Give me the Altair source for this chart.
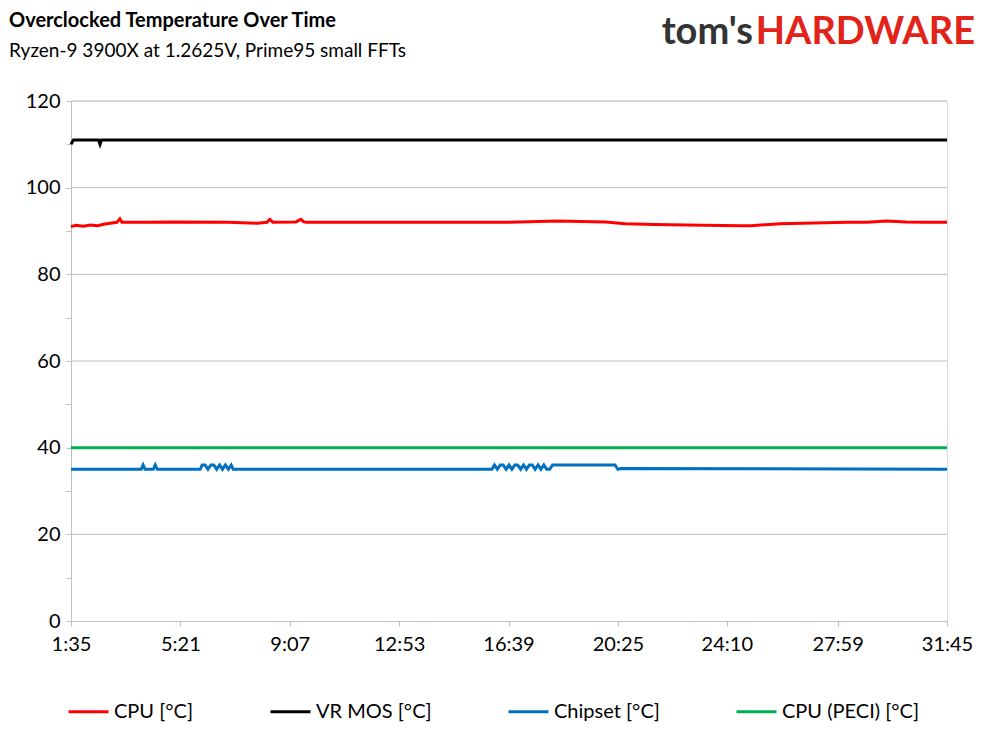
"""Overclocked temperature over time (Ryzen-9 3900X, Prime95 small FFTs)."""

import altair as alt
import pandas as pd

FONT = "Lato"

# breakpoints: time in seconds, temperature in °C
cpu_t = [95, 105, 120, 135, 150, 165, 190, 196, 200, 260, 300, 420, 480, 500, 506, 512, 560, 570,
         576, 582, 650, 780, 900, 1000, 1100, 1200, 1240, 1300, 1400, 1480, 1500, 1560, 1700, 1740,
         1780, 1820, 1860, 1905]
cpu_v = [91.0, 91.3, 91.1, 91.4, 91.2, 91.6, 92.0, 92.8, 92.0, 92.0, 92.1, 92.0, 91.8, 92.0, 92.7,
         92.0, 92.1, 92.7, 92.1, 92.0, 92.0, 92.0, 92.0, 92.0, 92.3, 92.1, 91.7, 91.5, 91.3, 91.2, 91.2,
         91.7, 92.0, 92.0, 92.3, 92.1, 92.0, 92.0]

vr_t = [95, 100, 103, 152, 155, 158, 1905]
vr_v = [110, 111, 111, 111, 110, 111, 111]

chip_t = [95, 240, 244, 248, 265, 269, 273, 362, 366, 372, 378, 384, 390, 396, 402, 408, 414, 420,
          426, 430, 965, 970, 976, 982, 988, 994, 1000, 1006, 1012, 1018, 1024, 1030, 1036, 1042,
          1048, 1054, 1060, 1066, 1072, 1078, 1084, 1090, 1095, 1219, 1225, 1231, 1905]
chip_v = [35, 35, 36, 35, 35, 36, 35, 35, 36, 36, 35, 36, 36, 35, 36, 35, 36, 35, 36, 35, 35, 36, 35,
          36, 36, 35, 36, 35, 36, 36, 35, 36, 35, 36, 36, 35, 36, 35, 36, 35, 35, 36, 36, 36, 35, 35.2,
          35]

peci_t = [95, 1905]
peci_v = [40, 40]

series = ["CPU [°C]", "VR MOS [°C]", "Chipset [°C]", "CPU (PECI) [°C]"]
colors = ["#FF0000", "#000000", "#0070C0", "#00B050"]

time_ticks = [95, 321, 547, 773, 999, 1225, 1450, 1679, 1905]
grid_vals = [20, 40, 60, 80, 100, 120]
minor_vals = list(range(0, 121, 5))

frames = []
for name, t, v in zip(series, [cpu_t, vr_t, chip_t, peci_t], [cpu_v, vr_v, chip_v, peci_v]):
    frames.append(pd.DataFrame({"time": t, "temp": v, "series": name}))
df = pd.concat(frames, ignore_index=True)

label_expr = ("floor(datum.value/60) + ':' + (datum.value%60 < 10 ? '0' : '') + (datum.value%60)")

grid = (
    alt.Chart(pd.DataFrame({"g": grid_vals}))
    .mark_rule(color="#BFBFBF", strokeWidth=1)
    .encode(y=alt.Y("g:Q", scale=alt.Scale(domain=[0, 120])))
)

lines = (
    alt.Chart(df)
    .mark_line(strokeWidth=3, interpolate="linear")
    .encode(
        x=alt.X(
            "time:Q",
            scale=alt.Scale(domain=[95, 1905], nice=False, zero=False),
            axis=alt.Axis(values=time_ticks, labelExpr=label_expr, title=None, grid=False,
                          domainColor="#BFBFBF", tickColor="#BFBFBF", tickSize=5,
                          labelFlush=False, labelBound=False, labelOverlap=False,
                          labelFontSize=20, labelColor="#000000", labelPadding=8, labelFont=FONT),
        ),
        y=alt.Y(
            "temp:Q",
            scale=alt.Scale(domain=[0, 120], nice=False),
            axis=alt.Axis(values=minor_vals, labelExpr="datum.value % 20 == 0 ? datum.label : ''",
                          title=None, grid=False, domainColor="#BFBFBF", tickColor="#BFBFBF",
                          tickSize=5, labelFontSize=20, labelColor="#000000", labelPadding=6,
                          labelFont=FONT),
        ),
        color=alt.Color(
            "series:N",
            scale=alt.Scale(domain=series, range=colors),
            sort=series,
            legend=alt.Legend(
                title=None, orient="none", direction="horizontal", legendX=-4, legendY=589,
                symbolType="stroke", symbolStrokeWidth=3, symbolSize=1600, labelFontSize=20,
                labelFont=FONT, labelColor="#000000", columnPadding=70, labelLimit=300,
            ),
        ),
        detail="series:N",
    )
)

# header texts
header = pd.DataFrame({"k": [0]})
title = alt.Chart(header).mark_text(
    text="Overclocked Temperature Over Time", align="left", baseline="middle",
    fontSize=20, fontWeight="bold", font=FONT, color="#000000",
).encode(x=alt.value(-62), y=alt.value(-80))
subtitle = alt.Chart(header).mark_text(
    text="Ryzen-9 3900X at 1.2625V, Prime95 small FFTs", align="left", baseline="middle",
    fontSize=19, font=FONT, color="#000000",
).encode(x=alt.value(-62), y=alt.value(-50))
logo_a = alt.Chart(header).mark_text(
    text="tom's", align="right", baseline="middle", fontSize=38, fontWeight="bold",
    font=FONT, color="#333333",
).encode(x=alt.value(682), y=alt.value(-68))
logo_b = alt.Chart(header).mark_text(
    text="HARDWARE", align="right", baseline="middle", fontSize=38, fontWeight="bold",
    font=FONT, color="#E2231A",
).encode(x=alt.value(904), y=alt.value(-68))

chart = (
    alt.layer(grid, lines, title, subtitle, logo_a, logo_b)
    .properties(
        width=876,
        height=520,
        autosize=alt.AutoSizeParams(type="none"),
        padding={"left": 63, "top": 93, "right": 34, "bottom": 112},
    )
    .configure_view(strokeWidth=0, clip=False)
    .configure(background="white")
)

chart.save("out.html", embed_options={"renderer": "svg", "actions": False})
